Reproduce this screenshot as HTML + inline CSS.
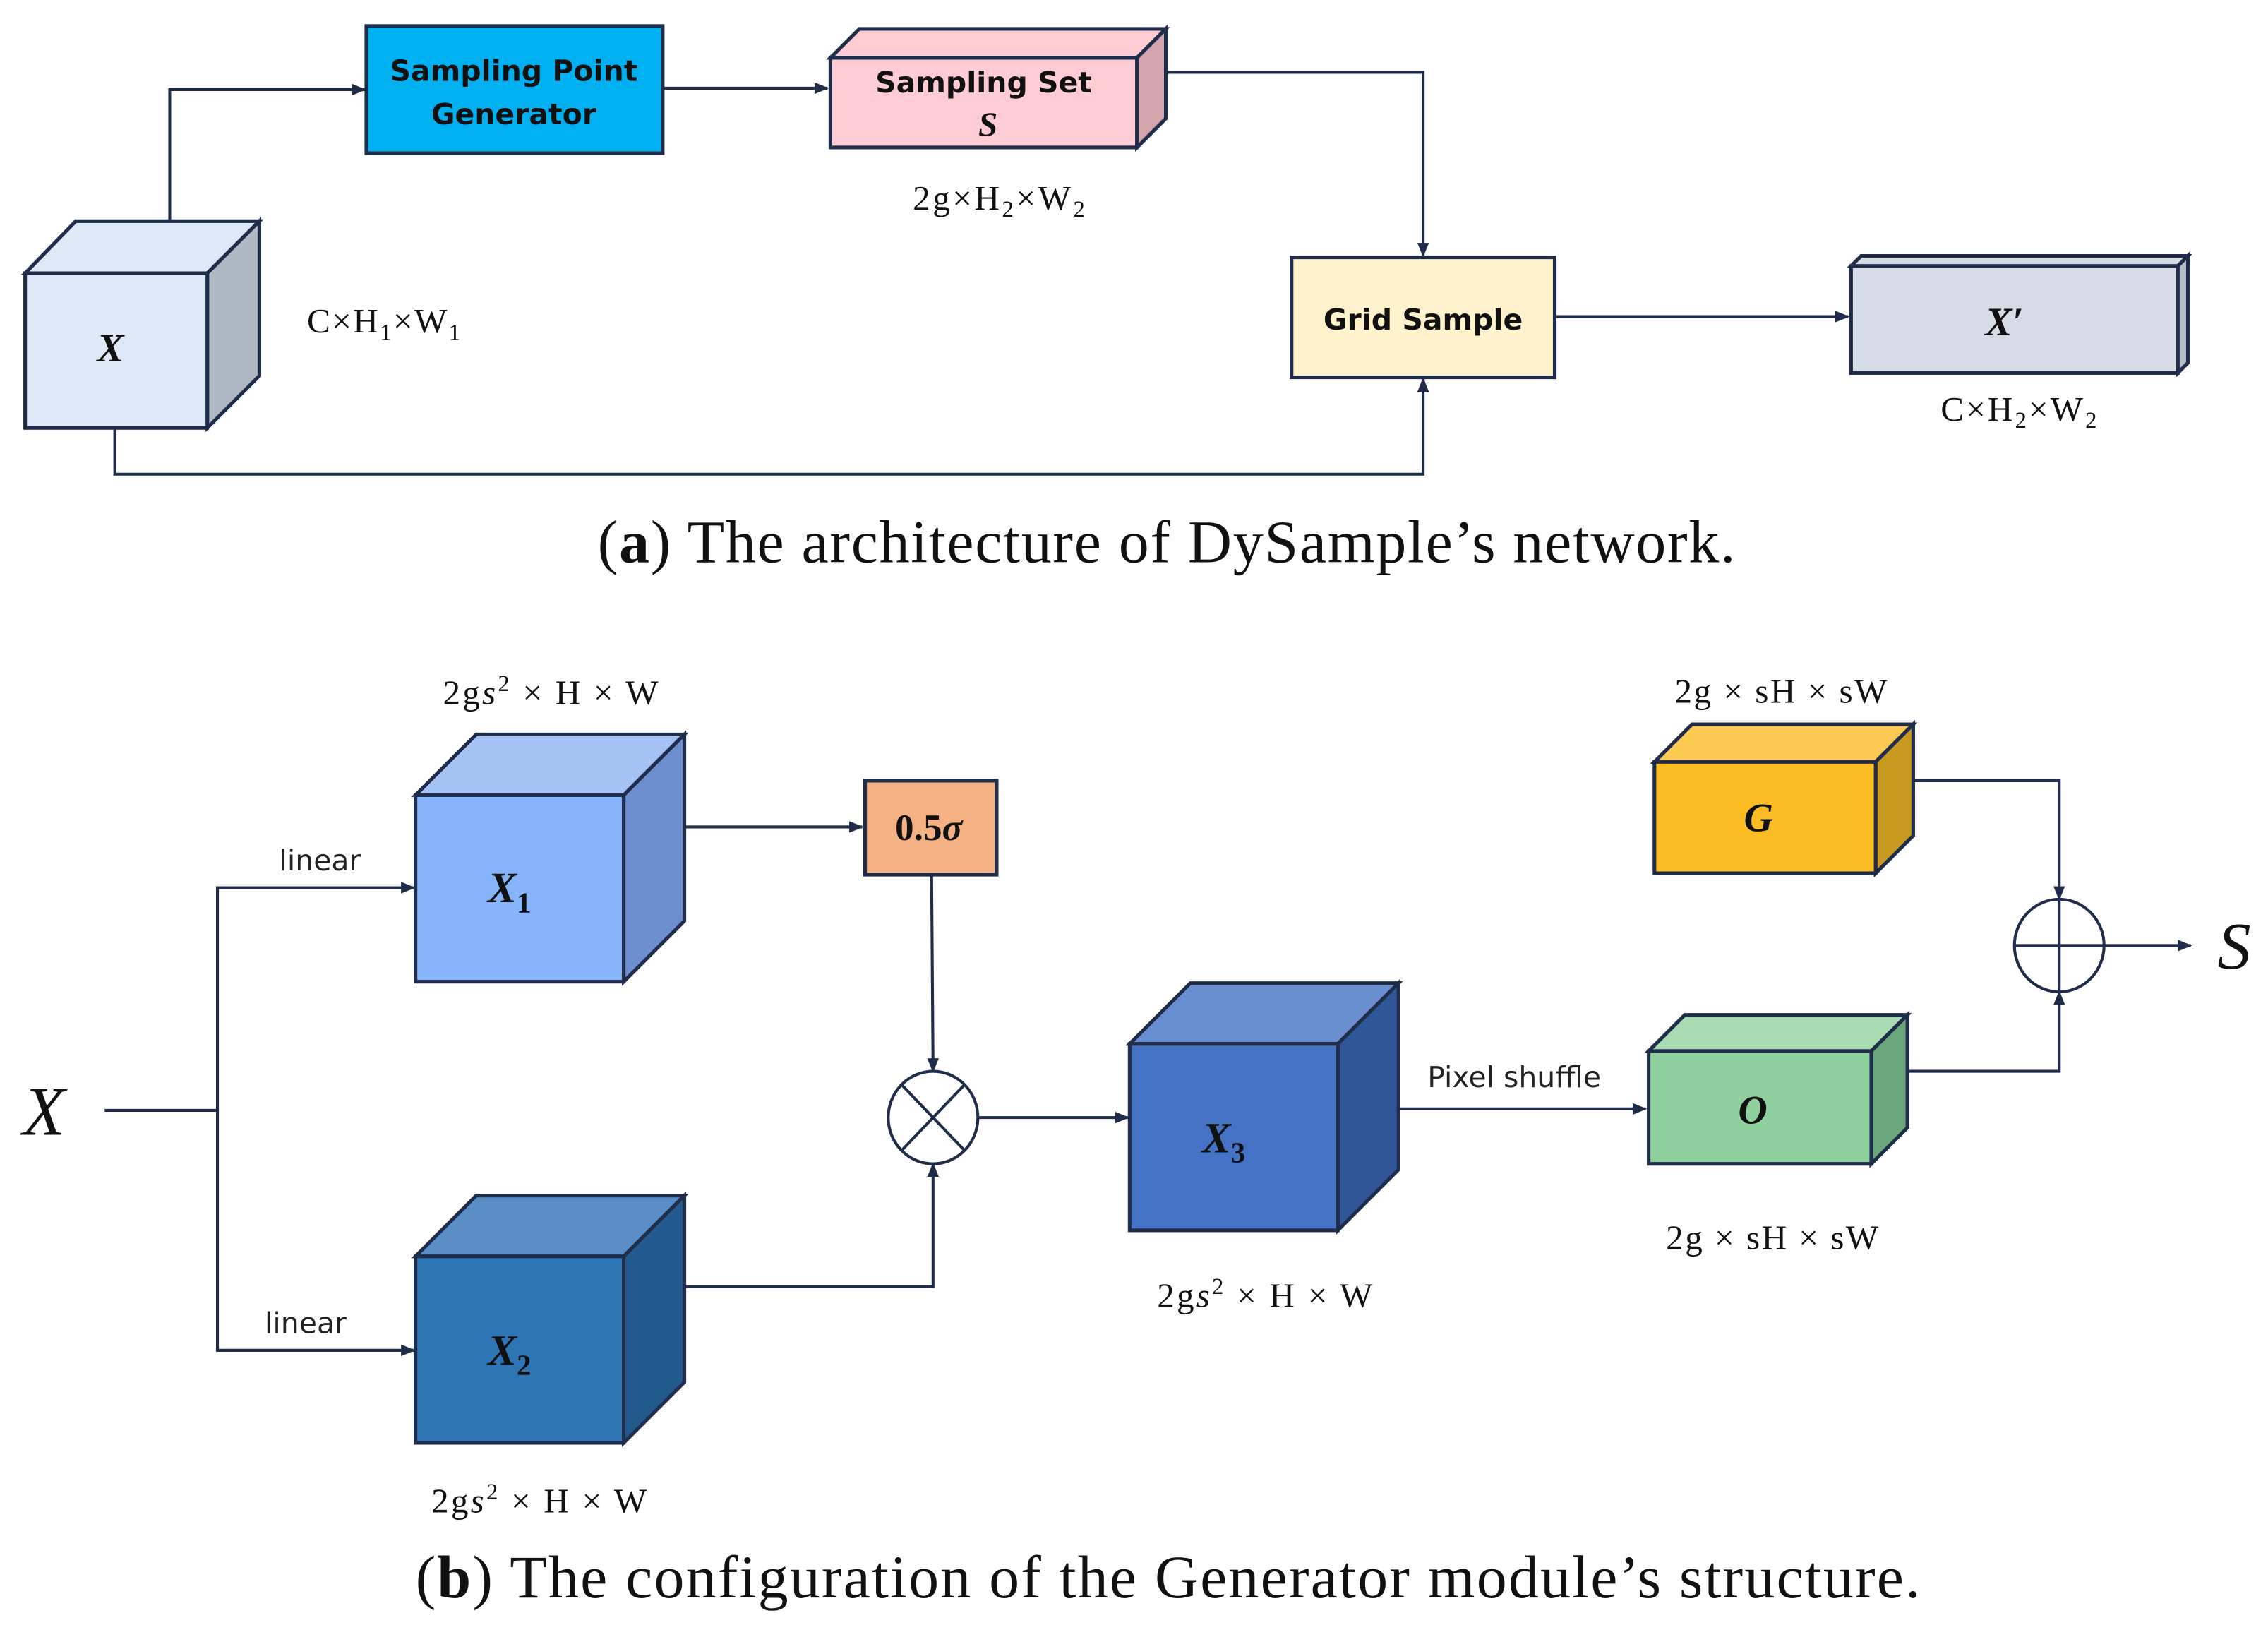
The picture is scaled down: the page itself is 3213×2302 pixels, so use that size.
<!DOCTYPE html>
<html><head><meta charset="utf-8"><style>html,body{margin:0;padding:0;background:#fff}svg{display:block}</style></head>
<body>
<svg width="3213" height="2302" viewBox="0 0 1568 1124" xmlns="http://www.w3.org/2000/svg">
<defs>
<marker id="a" markerWidth="10" markerHeight="10" refX="9" refY="5" orient="auto" markerUnits="userSpaceOnUse"><path d="M0,1 L10,5 L0,9 Z" fill="#1f2d4a"/></marker>
</defs>
<g stroke="#1f2d4a" stroke-width="2" fill="none">
<polyline points="117,153 117,62 252,62" marker-end="url(#a)"/>
<line x1="458" y1="61" x2="572" y2="61" marker-end="url(#a)"/>
<polyline points="806,50 984,50 984,177" marker-end="url(#a)"/>
<line x1="1075" y1="219" x2="1278" y2="219" marker-end="url(#a)"/>
<polyline points="79,296 79,328 984,328 984,262" marker-end="url(#a)"/>
<line x1="72" y1="768" x2="150" y2="768"/>
<polyline points="286,614 150,614 150,934 286,934"/>
<line x1="150" y1="614" x2="286" y2="614" marker-end="url(#a)"/>
<line x1="150" y1="934" x2="286" y2="934" marker-end="url(#a)"/>
<line x1="473" y1="572" x2="596" y2="572" marker-end="url(#a)"/>
<line x1="644" y1="605" x2="645" y2="741" marker-end="url(#a)"/>
<polyline points="473,890 645,890 645,805" marker-end="url(#a)"/>
<line x1="676" y1="773" x2="780" y2="773" marker-end="url(#a)"/>
<line x1="967" y1="767" x2="1138" y2="767" marker-end="url(#a)"/>
<polyline points="1323,540 1424,540 1424,622" marker-end="url(#a)"/>
<polyline points="1320,741 1424,741 1424,686" marker-end="url(#a)"/>
<line x1="1455" y1="654" x2="1515" y2="654" marker-end="url(#a)"/>
</g>
<g stroke="#1f2d4a" stroke-width="2.5">
<polygon points="17,189 52,153 179,153 143,189" fill="#dde9f6"/>
<polygon points="143,189 179,153 179,260 143,296" fill="#b0b8c2"/>
<rect x="17" y="189" width="126" height="107" fill="#dde9f6"/>
<rect x="253" y="18" width="205" height="88" fill="#00b0f0"/>
<polygon points="574,40 594,20 806,20 786,40" fill="#ffccd5"/>
<polygon points="786,40 806,20 806,82 786,102" fill="#d4a5ad"/>
<rect x="574" y="40" width="212" height="62" fill="#ffccd5"/>
<rect x="893" y="178" width="182" height="83" fill="#fff2cc"/>
<polygon points="1280,184 1287,177 1513,177 1506,184" fill="#d6dce4"/>
<polygon points="1506,184 1513,177 1513,251 1506,258" fill="#b4bcc6"/>
<rect x="1280" y="184" width="226" height="74" fill="#d6dce4"/>
<polygon points="287,550 329,508 473,508 431,550" fill="#a4c2f4"/>
<polygon points="431,550 473,508 473,637 431,679" fill="#6d8fd0"/>
<rect x="287" y="550" width="144" height="129" fill="#85b3fc"/>
<polygon points="287,869 329,827 473,827 431,869" fill="#5b8ec6"/>
<polygon points="431,869 473,827 473,956 431,998" fill="#235a8e"/>
<rect x="287" y="869" width="144" height="129" fill="#2e75b6"/>
<rect x="598" y="540" width="91" height="65" fill="#f4b183"/>
<polygon points="781,722 823,680 967,680 925,722" fill="#6a8fd0"/>
<polygon points="925,722 967,680 967,809 925,851" fill="#2f5597"/>
<rect x="781" y="722" width="144" height="129" fill="#4472c4"/>
<polygon points="1140,727 1165,702 1319,702 1294,727" fill="#a9dcb3"/>
<polygon points="1294,727 1319,702 1319,780 1294,805" fill="#6aa67a"/>
<rect x="1140" y="727" width="154" height="78" fill="#8fd19e"/>
<polygon points="1144,527 1170,501 1323,501 1297,527" fill="#fcca52"/>
<polygon points="1297,527 1323,501 1323,578 1297,604" fill="#c99a20"/>
<rect x="1144" y="527" width="153" height="77" fill="#fbbd23"/>
</g>
<g stroke="#1f2d4a" stroke-width="2" fill="#fff">
<ellipse cx="645" cy="773" rx="31" ry="32"/>
<line x1="623" y1="750" x2="667" y2="796"/><line x1="667" y1="750" x2="623" y2="796"/>
<ellipse cx="1424" cy="654" rx="31" ry="32"/>
<line x1="1393" y1="654" x2="1455" y2="654"/><line x1="1424" y1="622" x2="1424" y2="686"/>
</g>
<g font-family="'DejaVu Sans','Liberation Sans',sans-serif" font-weight="bold" font-size="20" fill="#111" text-anchor="middle">
<text x="355" y="56">Sampling Point</text>
<text x="355" y="86">Generator</text>
<text x="680" y="64">Sampling Set</text>
<text x="984" y="228">Grid Sample</text>
</g>
<g font-family="'Liberation Serif',serif" fill="#111">
<g text-anchor="middle">
<text x="683" y="94" font-size="24" font-style="italic" font-weight="bold">S</text>
<text x="76" y="250" font-size="28" font-style="italic" font-weight="bold">X</text>
<text x="1386" y="232" font-size="28" font-style="italic" font-weight="bold">X′</text>
<text x="30" y="785" font-size="48" font-style="italic">X</text>
<text x="1545" y="670" font-size="46" font-style="italic">S</text>
<text x="352" y="624" font-size="30" font-style="italic" font-weight="bold">X<tspan font-size="20" dy="7" font-style="normal">1</tspan></text>
<text x="352" y="944" font-size="30" font-style="italic" font-weight="bold">X<tspan font-size="20" dy="7" font-style="normal">2</tspan></text>
<text x="846" y="797" font-size="30" font-style="italic" font-weight="bold">X<tspan font-size="20" dy="7" font-style="normal">3</tspan></text>
<text x="1216" y="575" font-size="28" font-style="italic" font-weight="bold">G</text>
<text x="1212" y="777" font-size="28" font-style="italic" font-weight="bold">O</text>
<text x="642" y="581" font-size="26" font-weight="bold">0.5<tspan font-style="italic">σ</tspan></text>
</g>
<text x="631" y="145" font-size="24" textLength="119">2g×H<tspan font-size="16" dy="5">2</tspan><tspan dy="-5">×W</tspan><tspan font-size="16" dy="5">2</tspan></text>
<text x="212" y="230" font-size="24" textLength="106">C×H<tspan font-size="16" dy="5">1</tspan><tspan dy="-5">×W</tspan><tspan font-size="16" dy="5">1</tspan></text>
<text x="1342" y="291" font-size="24" textLength="108">C×H<tspan font-size="16" dy="5">2</tspan><tspan dy="-5">×W</tspan><tspan font-size="16" dy="5">2</tspan></text>
<text x="413" y="389" font-size="42" textLength="787">(<tspan font-weight="bold">a</tspan>) The architecture of DySample’s network.</text>
<text x="287" y="1105" font-size="42" textLength="1041">(<tspan font-weight="bold">b</tspan>) The configuration of the Generator module’s structure.</text>
<text x="306" y="487" font-size="24" textLength="149">2g<tspan font-style="italic">s</tspan><tspan font-size="16" dy="-9">2</tspan><tspan dy="9"> × H × W</tspan></text>
<text x="298" y="1046" font-size="24" textLength="149">2g<tspan font-style="italic">s</tspan><tspan font-size="16" dy="-9">2</tspan><tspan dy="9"> × H × W</tspan></text>
<text x="800" y="904" font-size="24" textLength="149">2g<tspan font-style="italic">s</tspan><tspan font-size="16" dy="-9">2</tspan><tspan dy="9"> × H × W</tspan></text>
<text x="1158" y="486" font-size="24" textLength="147">2g × sH × sW</text>
<text x="1152" y="864" font-size="24" textLength="147">2g × sH × sW</text>
</g>
<g font-family="'DejaVu Sans','Liberation Sans',sans-serif" font-size="20" fill="#222" text-anchor="middle">
<text x="221" y="602">linear</text>
<text x="211" y="922">linear</text>
<text x="1047" y="752">Pixel shuffle</text>
</g>
</svg>
</body></html>
